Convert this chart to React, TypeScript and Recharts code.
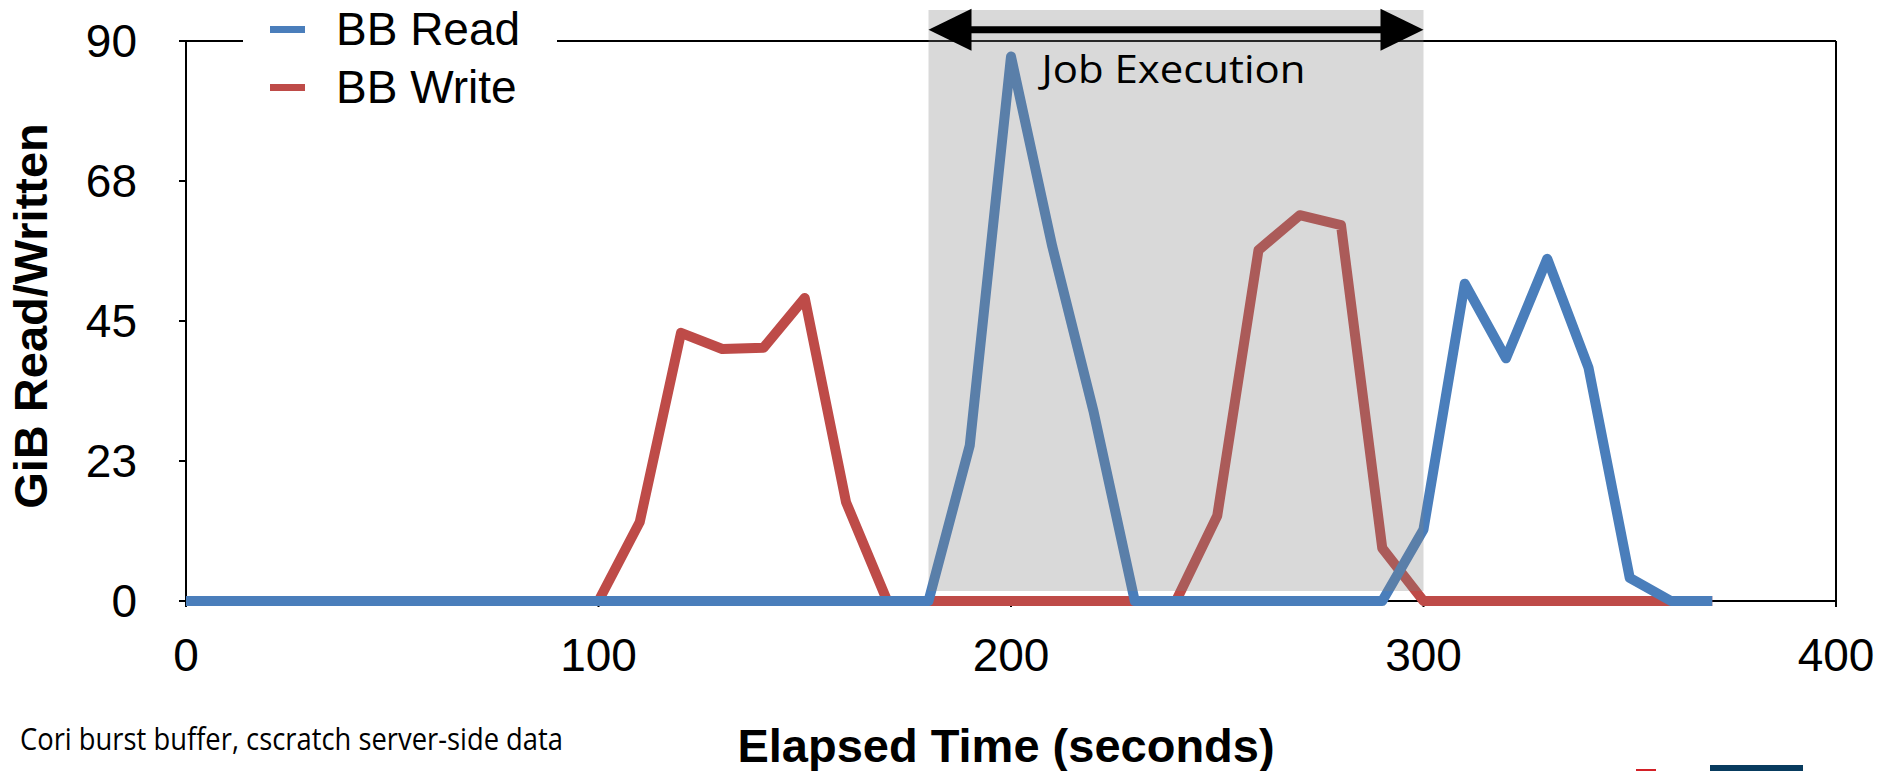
import React from 'react';
import {
  LineChart,
  Line,
  XAxis,
  YAxis,
  ReferenceArea,
  ReferenceLine,
  Legend,
  Label,
} from 'recharts';

// elapsed time, seconds (one sample every 10 s)
const times = [
  0, 10, 20, 30, 40, 50, 60, 70, 80, 90,
  100, 110, 120, 130, 140, 150, 160, 170, 180, 190,
  200, 210, 220, 230, 240, 250, 260, 270, 280, 290,
  300, 310, 320, 330, 340, 350, 360, 370,
];

// GiB read from the burst buffer
const bbRead = [
  0, 0, 0, 0, 0, 0, 0, 0, 0, 0,
  0, 0, 0, 0, 0, 0, 0, 0, 0, 25,
  87.5, 57, 30.5, 0, 0, 0, 0, 0, 0, 0,
  11.5, 51, 39, 55, 37.5, 3.7, 0, 0,
];

// GiB written to the burst buffer
const bbWrite = [
  0, 0, 0, 0, 0, 0, 0, 0, 0, 0,
  0, 12.7, 43.1, 40.5, 40.7, 48.7, 15.9, 0, 0, 0,
  0, 0, 0, 0, 0, 13.7, 56.4, 62, 60.4, 8.5,
  0, 0, 0, 0, 0, 0, 0, 0,
];

const xTicks = [0, 100, 200, 300, 400];
const yTicks = [0, 22.5, 45, 67.5, 90];
const jobStart = 180;
const jobEnd = 300;
const legendOrder = ['BB Read', 'BB Write'];

const READ_COLOR = '#4A7EBB';
const WRITE_COLOR = '#BE4B48';
const FONT = '"Liberation Sans", Arial, sans-serif';

const chartData = times.map((t, i) => ({ t, read: bbRead[i], write: bbWrite[i] }));

const JobArrow = (props: any) => {
  const { x1, y1, x2 } = props;
  const head = 43;
  const half = 21;
  return (
    <g>
      <line x1={x1 + head - 2} y1={y1} x2={x2 - head + 2} y2={y1} stroke="#000" strokeWidth={7} />
      <polygon points={`${x1},${y1} ${x1 + head},${y1 - half} ${x1 + head},${y1 + half}`} fill="#000" />
      <polygon points={`${x2},${y1} ${x2 - head},${y1 - half} ${x2 - head},${y1 + half}`} fill="#000" />
      <text
        x={x1 + 113}
        y={y1 + 53}
        fontFamily='"Open Sans", sans-serif'
        fontSize={39}
        textLength={264}
        lengthAdjust="spacingAndGlyphs"
        fill="#000"
      >
        Job Execution
      </text>
    </g>
  );
};

const renderLegend = (props: any) => {
  const payload = props.payload || [];
  const items = legendOrder
    .map((name) => payload.find((p: any) => p.value === name))
    .filter(Boolean);
  return (
    <div style={{ background: '#fff', width: '100%', height: '100%' }}>
      {items.map((item: any) => (
        <div key={item.value} style={{ display: 'flex', alignItems: 'center', height: 58 }}>
          <span style={{ display: 'inline-block', width: 35, height: 7, background: item.color, marginLeft: 27 }} />
          <span style={{ marginLeft: 31, fontFamily: FONT, fontSize: 46, lineHeight: '58px', color: '#000' }}>
            {item.value}
          </span>
        </div>
      ))}
    </div>
  );
};

const YTitle = (props: any) => {
  const vb = props.viewBox || {};
  const cy = vb.y + vb.height / 2 - 5;
  return (
    <text
      x={47}
      y={cy}
      transform={`rotate(-90, 47, ${cy})`}
      textAnchor="middle"
      fontFamily={FONT}
      fontWeight="bold"
      fontSize={47}
      fill="#000"
    >
      GiB Read/Written
    </text>
  );
};

const XTitle = (props: any) => {
  const vb = props.viewBox || {};
  return (
    <text
      x={vb.x + vb.width / 2 - 5}
      y={762}
      textAnchor="middle"
      fontFamily={FONT}
      fontWeight="bold"
      fontSize={47}
      fill="#000"
    >
      Elapsed Time (seconds)
    </text>
  );
};

export default function App() {
  return (
    <div style={{ position: 'relative', width: 1879, height: 771, background: '#fff' }}>
      <style>{'body{margin:0}'}</style>
      <LineChart
        width={1879}
        height={771}
        data={chartData}
        margin={{ top: 41, right: 43, left: 86, bottom: 110 }}
      >
        <XAxis
          dataKey="t"
          type="number"
          domain={[0, 400]}
          ticks={xTicks}
          height={60}
          tickSize={6}
          tickMargin={31}
          axisLine={{ stroke: '#000', strokeWidth: 2 }}
          tickLine={{ stroke: '#000', strokeWidth: 2 }}
          tick={{ fill: '#000', fontSize: 46, fontFamily: FONT }}
        >
          <Label content={XTitle} />
        </XAxis>
        <YAxis
          type="number"
          domain={[0, 90]}
          ticks={yTicks}
          width={100}
          tickSize={7}
          tickMargin={42}
          tickFormatter={(v: number) => String(Math.round(v))}
          axisLine={{ stroke: '#000', strokeWidth: 2 }}
          tickLine={{ stroke: '#000', strokeWidth: 2 }}
          tick={{ fill: '#000', fontSize: 46, fontFamily: FONT }}
        >
          <Label content={YTitle} />
        </YAxis>
        {/* plot frame: top and right edges */}
        <ReferenceLine y={90} stroke="#000" strokeWidth={2} ifOverflow="visible" zIndex={540} />
        <ReferenceLine x={400} stroke="#000" strokeWidth={2} ifOverflow="visible" zIndex={540} />
        <Line
          name="BB Write"
          dataKey="write"
          type="linear"
          stroke={WRITE_COLOR}
          strokeWidth={10}
          strokeLinejoin="round"
          dot={false}
          activeDot={false}
          isAnimationActive={false}
          zIndex={550}
        />
        <Line
          name="BB Read"
          dataKey="read"
          type="linear"
          stroke={READ_COLOR}
          strokeWidth={10}
          strokeLinejoin="round"
          dot={false}
          activeDot={false}
          isAnimationActive={false}
          zIndex={551}
        />
        <ReferenceArea
          x1={jobStart}
          x2={jobEnd}
          y1={1.6}
          y2={95}
          ifOverflow="visible"
          fill="#808080"
          fillOpacity={0.3}
          stroke="none"
          zIndex={560}
        />
        <ReferenceLine
          segment={[{ x: jobStart, y: 91.8 }, { x: jobEnd, y: 91.8 }]}
          ifOverflow="visible"
          shape={JobArrow}
          zIndex={570}
        />
        <Legend
          layout="horizontal"
          verticalAlign="middle"
          align="center"
          content={renderLegend}
          wrapperStyle={{ position: 'absolute', left: 243, top: 0, width: 314, height: 118 }}
        />
      </LineChart>
      <svg
        width={1879}
        height={771}
        style={{ position: 'absolute', left: 0, top: 0, pointerEvents: 'none' }}
      >
        <text
          x={20}
          y={750}
          fontFamily='"Open Sans", sans-serif'
          fontSize={31}
          textLength={543}
          lengthAdjust="spacingAndGlyphs"
          fill="#000"
        >
          Cori burst buffer, cscratch server-side data
        </text>
        <rect x={1636} y={769} width={20} height={2} fill="#D32027" />
        <rect x={1710} y={765} width={93} height={6} fill="#083B5E" />
      </svg>
    </div>
  );
}
